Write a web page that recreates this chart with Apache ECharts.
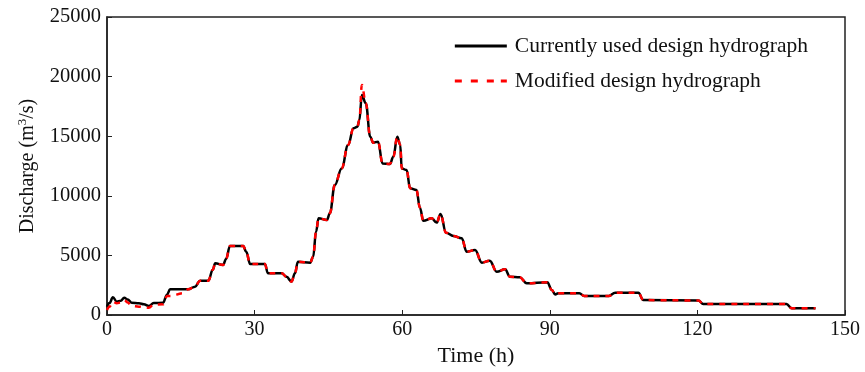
<!DOCTYPE html>
<html>
<head>
<meta charset="utf-8">
<script src="https://cdn.jsdelivr.net/npm/echarts@6/dist/echarts.min.js"></script>
<style>html,body{margin:0;padding:0;background:#fff}#c{width:865px;height:372px}</style>
</head>
<body>
<div id="c"></div>
<script>
// time (h)
var timeH = [0, 0.5, 1.2, 2, 2.8, 3.5, 4.2, 5, 6.5, 7.5, 8.5, 9.5, 11.4, 12.2, 12.8, 15.5, 16.5, 17.9, 18.9, 20.6,
  21.5, 22, 23.6, 24.2, 25, 27.7, 28.3, 29.1, 32.1, 32.7, 35.5, 36.5, 37.5, 38.2, 38.8, 41.3, 41.9, 42.5, 43, 44.7,
  45.3, 46.3, 47.7, 49, 50.1, 50.9, 51.3, 51.8, 52.6, 53.5, 54.1, 55.1, 56, 57.5, 58.2, 59, 59.6, 59.9, 60.9, 61.6,
  62.9, 63.6, 64.3, 66, 67, 67.8, 68.9, 70.4, 72.1, 73.1, 74.8, 76.2, 77.8, 79.2, 80.9, 81.9, 83.9, 85.3, 89.5, 90.4,
  91.1, 91.7, 96, 97, 102, 103.3, 108, 109, 120.2, 121.2, 138.1, 139.2, 144];
// Currently used design hydrograph (m3/s)
var currentQ = [700, 1000, 1480, 1120, 1200, 1450, 1300, 1030, 980, 900, 750, 1000, 1030, 1700, 2150, 2150, 2150, 2380, 2880, 2880,
  3800, 4340, 4200, 4700, 5790, 5790, 5300, 4280, 4280, 3500, 3500, 3200, 2800, 3500, 4470, 4390, 4890, 7000, 8110, 7970,
  8530, 10900, 12300, 14260, 15660, 15800, 16360, 18460, 17760, 14960, 14460, 14540, 12720, 12670, 13280, 14960, 14260, 12300, 12160, 10630,
  10490, 9000, 7900, 8110, 7750, 8470, 6910, 6630, 6430, 5310, 5450, 4390, 4560, 3630, 3830, 3210, 3160, 2660, 2750, 2100,
  1720, 1820, 1820, 1600, 1600, 1870, 1870, 1250, 1220, 920, 920, 560, 560];
// Modified design hydrograph (m3/s)
var modifiedQ = [420, 700, 1120, 980, 1050, 1260, 1050, 750, 700, 650, 610, 880, 900, 1590, 1590, 1820, 2150, 2380, 2880, 2880,
  3800, 4340, 4200, 4700, 5790, 5790, 5300, 4280, 4280, 3500, 3500, 3200, 2800, 3500, 4470, 4390, 4890, 7000, 8110, 7970,
  8530, 10900, 12300, 14260, 15660, 15800, 16360, 19300, 17760, 14960, 14460, 14540, 12720, 12670, 13280, 14960, 14260, 12300, 12160, 10630,
  10490, 9000, 7900, 8110, 7750, 8470, 6910, 6630, 6430, 5310, 5450, 4390, 4560, 3630, 3830, 3210, 3160, 2660, 2750, 2100,
  1720, 1820, 1820, 1600, 1600, 1870, 1870, 1250, 1220, 920, 920, 560, 560];
var seriesNames = ['Currently used design hydrograph', 'Modified design hydrograph'];

function pairs(ys) { return timeH.map(function (t, i) { return [t, ys[i]]; }); }

var font = 'Liberation Serif, Times New Roman, serif';
var chart = echarts.init(document.getElementById('c'), null, { renderer: 'canvas' });
chart.setOption({
  animation: false,
  backgroundColor: '#fff',
  grid: { left: 107, right: 20, top: 17, bottom: 57, show: true, borderColor: '#222', borderWidth: 1.5, backgroundColor: 'transparent' },
  legend: {
    right: 52, top: 30, orient: 'vertical', itemGap: 13, itemWidth: 52, itemHeight: 14,
    textStyle: { fontFamily: font, fontSize: 21.5, color: '#111', padding: [0, 0, 0, 3] },
    data: [
      { name: seriesNames[0], icon: 'path://M0,6 L52,6 L52,9 L0,9 Z', itemStyle: { color: '#000' } },
      { name: seriesNames[1], icon: 'path://M0,6 H7 V9 H0 Z M16,6 H23 V9 H16 Z M32,6 H39 V9 H32 Z M46,6 H52 V9 H46 Z', itemStyle: { color: '#ff0000' } }
    ]
  },
  xAxis: {
    type: 'value', min: 0, max: 150, interval: 30,
    name: 'Time (h)', nameLocation: 'middle', nameGap: 29,
    nameTextStyle: { fontFamily: font, fontSize: 22, color: '#111' },
    axisLine: { show: true, onZero: false, lineStyle: { color: '#222', width: 1.5 } },
    axisTick: { show: true, inside: true, length: 5, lineStyle: { color: '#222' } },
    axisLabel: { fontFamily: font, fontSize: 20, color: '#111', margin: 5 },
    splitLine: { show: false }
  },
  yAxis: {
    type: 'value', min: 0, max: 25000, interval: 5000,
    name: 'Discharge (m{sup|3}/s)', nameLocation: 'middle', nameGap: 68, nameRotate: 90,
    nameTextStyle: { fontFamily: font, fontSize: 20, color: '#111',
      rich: { sup: { fontFamily: font, fontSize: 13, color: '#111', verticalAlign: 'bottom', padding: [0, 0, 10, 0] } } },
    axisLine: { show: true, lineStyle: { color: '#222', width: 1.5 } },
    axisTick: { show: true, inside: true, length: 5, lineStyle: { color: '#222' } },
    axisLabel: { fontFamily: font, fontSize: 20.5, color: '#111', margin: 6, formatter: function (v) { return String(v); } },
    splitLine: { show: false }
  },
  series: [
    { name: seriesNames[0], type: 'line', data: pairs(currentQ), showSymbol: false, smooth: 0.4, smoothMonotone: 'x',
      lineStyle: { color: '#000', width: 2.5 }, itemStyle: { color: '#000' } },
    { name: seriesNames[1], type: 'line', data: pairs(modifiedQ), showSymbol: false, smooth: 0.4, smoothMonotone: 'x',
      lineStyle: { color: '#ff0000', width: 2.5, type: [6, 6] }, itemStyle: { color: '#ff0000' } }
  ]
});
</script>
</body>
</html>
